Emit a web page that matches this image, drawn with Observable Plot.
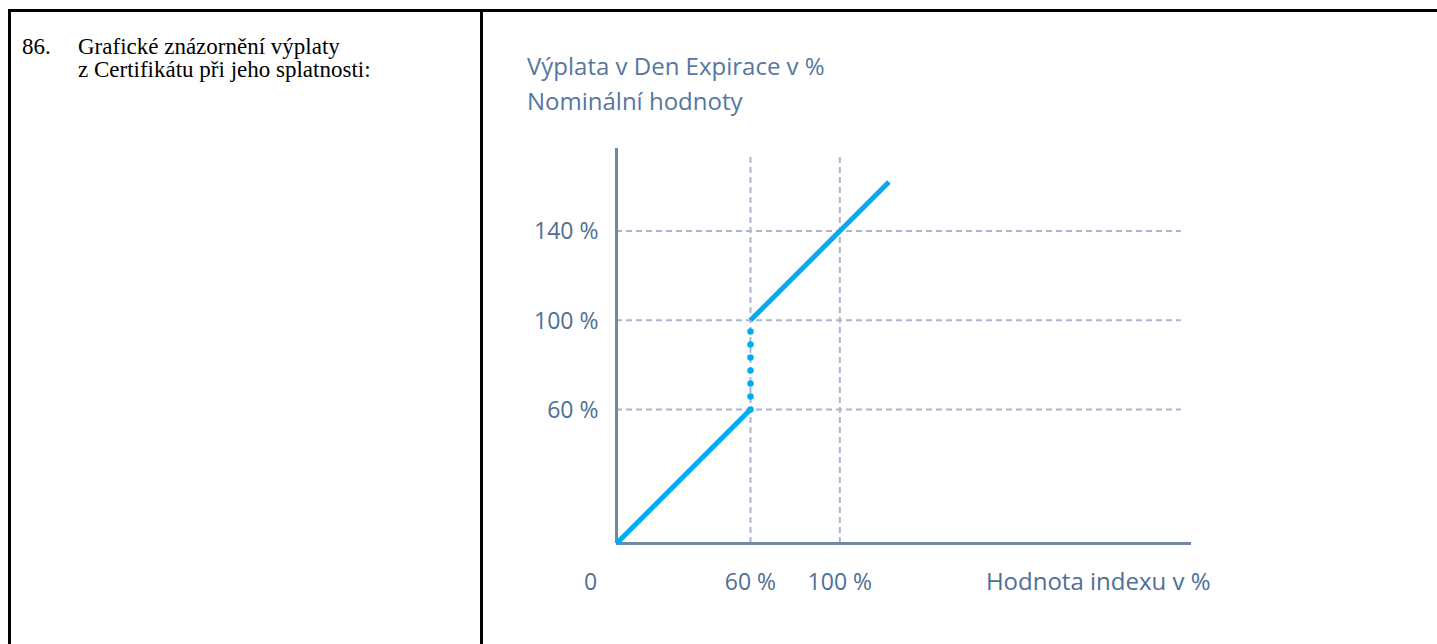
<!DOCTYPE html>
<html>
<head>
<meta charset="utf-8">
<script src="https://cdn.jsdelivr.net/npm/d3@7"></script>
<script src="https://cdn.jsdelivr.net/npm/@observablehq/plot@0.6"></script>
<style>
  html, body { margin: 0; padding: 0; background: #fff; }
  #page { position: relative; width: 1437px; height: 644px; overflow: hidden; }
  .line { position: absolute; background: #000; }
  #num { position: absolute; left: 22px; top: 35px; font-family: "Liberation Serif", serif; font-size: 23px; line-height: 23px; color: #000; }
  #desc { position: absolute; left: 78px; top: 35px; font-family: "Liberation Serif", serif; font-size: 23px; line-height: 23px; color: #000; }
  #title { position: absolute; left: 527px; top: 48px; font-family: "Open Sans", sans-serif; font-size: 24px; line-height: 35px; color: #56779e; }
  #chart { position: absolute; left: 0; top: 0; }
</style>
</head>
<body>
<div id="page">
  <div id="chart"></div>
  <div class="line" style="left:8px; top:9px; width:1429px; height:3px;"></div>
  <div class="line" style="left:8px; top:9px; width:3px; height:635px;"></div>
  <div class="line" style="left:480px; top:9px; width:3px; height:635px;"></div>
  <div id="num">86.</div>
  <div id="desc">Grafické znázornění výplaty<br>z Certifikátu při jeho splatnosti:</div>
  <div id="title">Výplata v Den Expirace v %<br>Nominální hodnoty</div>
</div>
<script>
// Payoff data (index value % -> payout %)
const lowerSegment = [ {x: 0, y: 0}, {x: 60, y: 60} ];
const jumpSegment = [ {x: 60, y: 60}, {x: 60, y: 100} ];
const upperSegment = [ {x: 60, y: 100}, {x: 122, y: 162} ];
const yTicks = [60, 100, 140];
const xTicks = [60, 100];
const xOriginLabel = ["0"];
const xTitle = ["Hodnota indexu v %"];

const blue = "#00adef";
const axisColor = "#6f89a5";
const gridColor = "#aab6cb";
const textColor = "#4e6f96";

const chart = Plot.plot({
  width: 1437,
  height: 644,
  marginLeft: 616,
  marginRight: 246,
  marginTop: 148,
  marginBottom: 101,
  style: { fontFamily: "'Open Sans', sans-serif", fontSize: "22px", color: textColor, background: "transparent" },
  x: { domain: [0, 257.5], axis: null },
  y: { domain: [0, 177], axis: null },
  marks: [
    Plot.ruleY(yTicks, { x1: 0, x2: 253, stroke: gridColor, strokeWidth: 2, strokeDasharray: "6,4" }),
    Plot.ruleX(xTicks, { y1: 0, y2: 174, stroke: gridColor, strokeWidth: 2, strokeDasharray: "6,4" }),
    Plot.ruleX([0], { y1: 0, y2: 177, stroke: axisColor, strokeWidth: 3 }),
    Plot.ruleY([0], { x1: 0, x2: 257.5, stroke: axisColor, strokeWidth: 3 }),
    Plot.line(lowerSegment, { x: "x", y: "y", stroke: blue, strokeWidth: 5, strokeLinecap: "butt" }),
    Plot.line(upperSegment, { x: "x", y: "y", stroke: blue, strokeWidth: 5, strokeLinecap: "butt" }),
    Plot.line(jumpSegment, { x: "x", y: "y", stroke: blue, strokeWidth: 6.5, strokeLinecap: "round", strokeDasharray: "0,13" }),
    Plot.text(yTicks, { x: 0, y: d => d, text: d => d + " %", textAnchor: "end", dx: -18, dy: 1, fill: textColor, fontSize: 23 }),
    Plot.text(xTicks, { x: d => d, frameAnchor: "bottom", text: d => d + " %", dy: 46, fill: textColor, fontSize: 23 }),
    Plot.text(xOriginLabel, { x: 0, frameAnchor: "bottom", text: d => d, dx: -26, dy: 46, fill: textColor, fontSize: 23 }),
    Plot.text(xTitle, { frameAnchor: "bottom-right", text: d => d, textAnchor: "end", dx: 19, dy: 46, fill: textColor, fontSize: 24 })
  ]
});
document.getElementById("chart").appendChild(chart);
</script>
</body>
</html>
